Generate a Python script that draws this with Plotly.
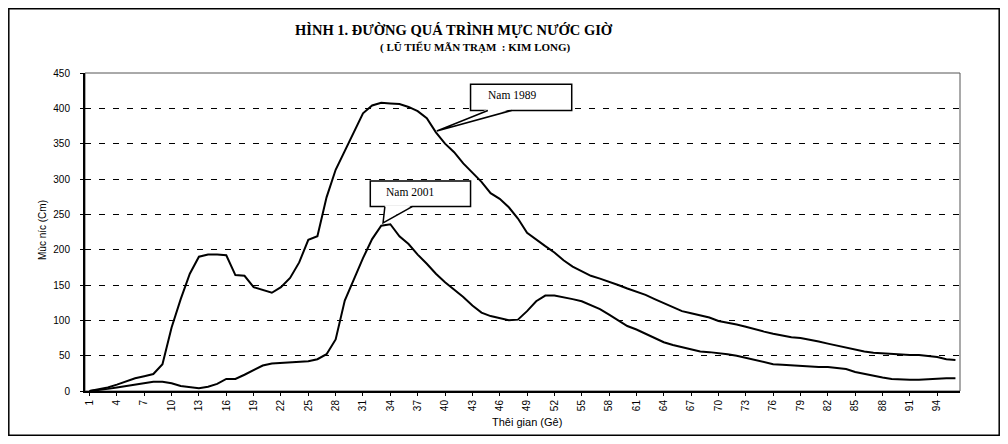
import plotly.graph_objects as go

# ---- data ----
hours = list(range(1, 97))
tick_labels = [str(h) for h in range(1, 97, 3)]

level_1989 = [0, 2, 5, 9, 14, 18, 21, 24, 38, 90,
              130, 166, 190, 193, 193, 192, 164, 163, 147, 143,
              139, 147, 160, 182, 214, 219, 274, 313, 340, 365,
              393, 404, 408, 407, 406, 402, 396, 386, 366, 350,
              338, 322, 309, 296, 280, 272, 260, 244, 224, 214,
              205, 196, 185, 176, 169, 163, 159, 155, 150, 145,
              141, 136, 130, 124, 118, 113, 110, 107, 104, 99,
              97, 94, 91, 87, 84, 81, 78, 76, 75, 73,
              70, 67, 64, 61, 58, 56, 54, 53, 52, 52,
              51, 51, 50, 48, 45, 44]

level_2001 = [0, 1, 3, 5, 7, 9, 11, 13, 13, 11,
              7, 5, 4, 6, 10, 17, 17, 23, 30, 36,
              39, 40, 41, 41, 42, 45, 52, 73, 128, 158,
              188, 215, 234, 236, 219, 208, 193, 180, 166, 154,
              144, 133, 121, 111, 106, 103, 100, 101, 113, 127,
              135, 135, 133, 130, 127, 122, 116, 108, 100, 92,
              87, 81, 74, 69, 65, 62, 59, 56, 55, 54,
              52, 50, 47, 43, 40, 38, 37, 36, 35, 35,
              34, 34, 33, 31, 27, 24, 22, 19, 17, 16,
              16, 16, 17, 18, 18, 18]

series_names = ["Nam 1989", "Nam 2001"]

title_text = "HÌNH 1. ĐƯỜNG QUÁ TRÌNH MỰC NƯỚC GIỜ"
subtitle_text = "( LŨ TIỂU MÃN TRẠM  : KIM LONG)"
x_title = "Thêi gian (Gê)"
y_title = "Mùc n\u00adíc (Cm)"

fig = go.Figure()
for name, vals in zip(series_names, [level_1989, level_2001]):
    fig.add_trace(go.Scatter(x=hours, y=vals, mode="lines", name=name,
                             line=dict(color="black", width=2),
                             showlegend=False))

# page has an 8px body margin; figure sized to fit the 1008x444 window
OFF = 8
W, H = 992, 428
L, R, T, B = 77, 40, 65, 45
pw, ph = W - L - R, H - T - B

def px_x(px):
    return (px - OFF - L) / pw

def px_y(py):
    return (H - B - (py - OFF)) / ph

shapes = []
# outer frame
shapes.append(dict(type="rect", xref="paper", yref="paper",
                   x0=(0.8 - L) / pw, x1=(W - 0.8 - L) / pw,
                   y0=(H - B - (H - 0.8)) / ph, y1=(H - B - 0.8) / ph,
                   line=dict(color="black", width=1.5), layer="below"))
# plot area border (thin top/right)
shapes.append(dict(type="rect", xref="paper", yref="paper",
                   x0=0, x1=1, y0=0, y1=1,
                   line=dict(color="#555", width=1), layer="below"))

def callout(bx0, bx1, by0, by1, base0, base1, tipx, tipy):
    out = []
    out.append(dict(type="rect", xref="x", yref="y", x0=bx0, x1=bx1, y0=by0, y1=by1,
                    fillcolor="white", line=dict(color="black", width=1.5), layer="above"))
    out.append(dict(type="path", xref="x", yref="y",
                    path=f"M {base0},{by0 + 2} L {tipx},{tipy} L {base1},{by0 + 2} Z",
                    fillcolor="white", line=dict(width=0), layer="above"))
    out.append(dict(type="path", xref="x", yref="y",
                    path=f"M {base0},{by0} L {tipx},{tipy} L {base1},{by0}",
                    line=dict(color="black", width=1.5), layer="above"))
    return out

shapes += callout(42.8, 53.9, 397, 434, 44.7, 47.3, 39.1, 368)
shapes += callout(31.8, 42.8, 261, 297, 33.4, 36.4, 33.2, 238)

def ann(text, x, y, size, family, **kw):
    d = dict(text=text, x=x, y=y, showarrow=False, xanchor="center", yanchor="middle",
             font=dict(family=family, size=size, color="black"))
    d.update(kw)
    return d

annotations = [
    ann(f"<b>{title_text}</b>", px_x(454), px_y(30), 14.5, "Liberation Serif",
        xref="paper", yref="paper"),
    ann(f"<b>{subtitle_text}</b>", px_x(475), px_y(48), 11, "Liberation Serif",
        xref="paper", yref="paper"),
    ann(x_title, px_x(527), px_y(422), 11, "Liberation Sans",
        xref="paper", yref="paper"),
    ann(y_title, px_x(42), px_y(230), 10, "Liberation Sans",
        xref="paper", yref="paper", textangle=-90),
    ann(series_names[0], 47.3, 419, 11.5, "Liberation Serif", xref="x", yref="y"),
    ann(series_names[1], 36.2, 281, 11.5, "Liberation Serif", xref="x", yref="y"),
]

fig.update_layout(
    width=W, height=H,
    margin=dict(l=L, r=R, t=T, b=B),
    paper_bgcolor="white", plot_bgcolor="white",
    shapes=shapes, annotations=annotations,
    xaxis=dict(range=[0.5, 96.5], tickmode="array",
               tickvals=list(range(1, 97, 3)), ticktext=tick_labels,
               tickangle=-90, ticks="outside", ticklen=3, tickcolor="black",
               showline=True, linecolor="black", linewidth=2,
               showgrid=False, zeroline=False, automargin=False,
               tickfont=dict(family="Liberation Sans", size=10, color="black")),
    yaxis=dict(range=[0, 450], dtick=50, ticks="outside", ticklen=3,
               tickcolor="black", showline=True, linecolor="black", linewidth=2,
               showgrid=True, gridcolor="black", gridwidth=1, griddash="6px,8px",
               zeroline=False, ticklabelstandoff=8, automargin=False,
               tickfont=dict(family="Liberation Sans", size=10, color="black")),
)

fig.write_html("out.html")
